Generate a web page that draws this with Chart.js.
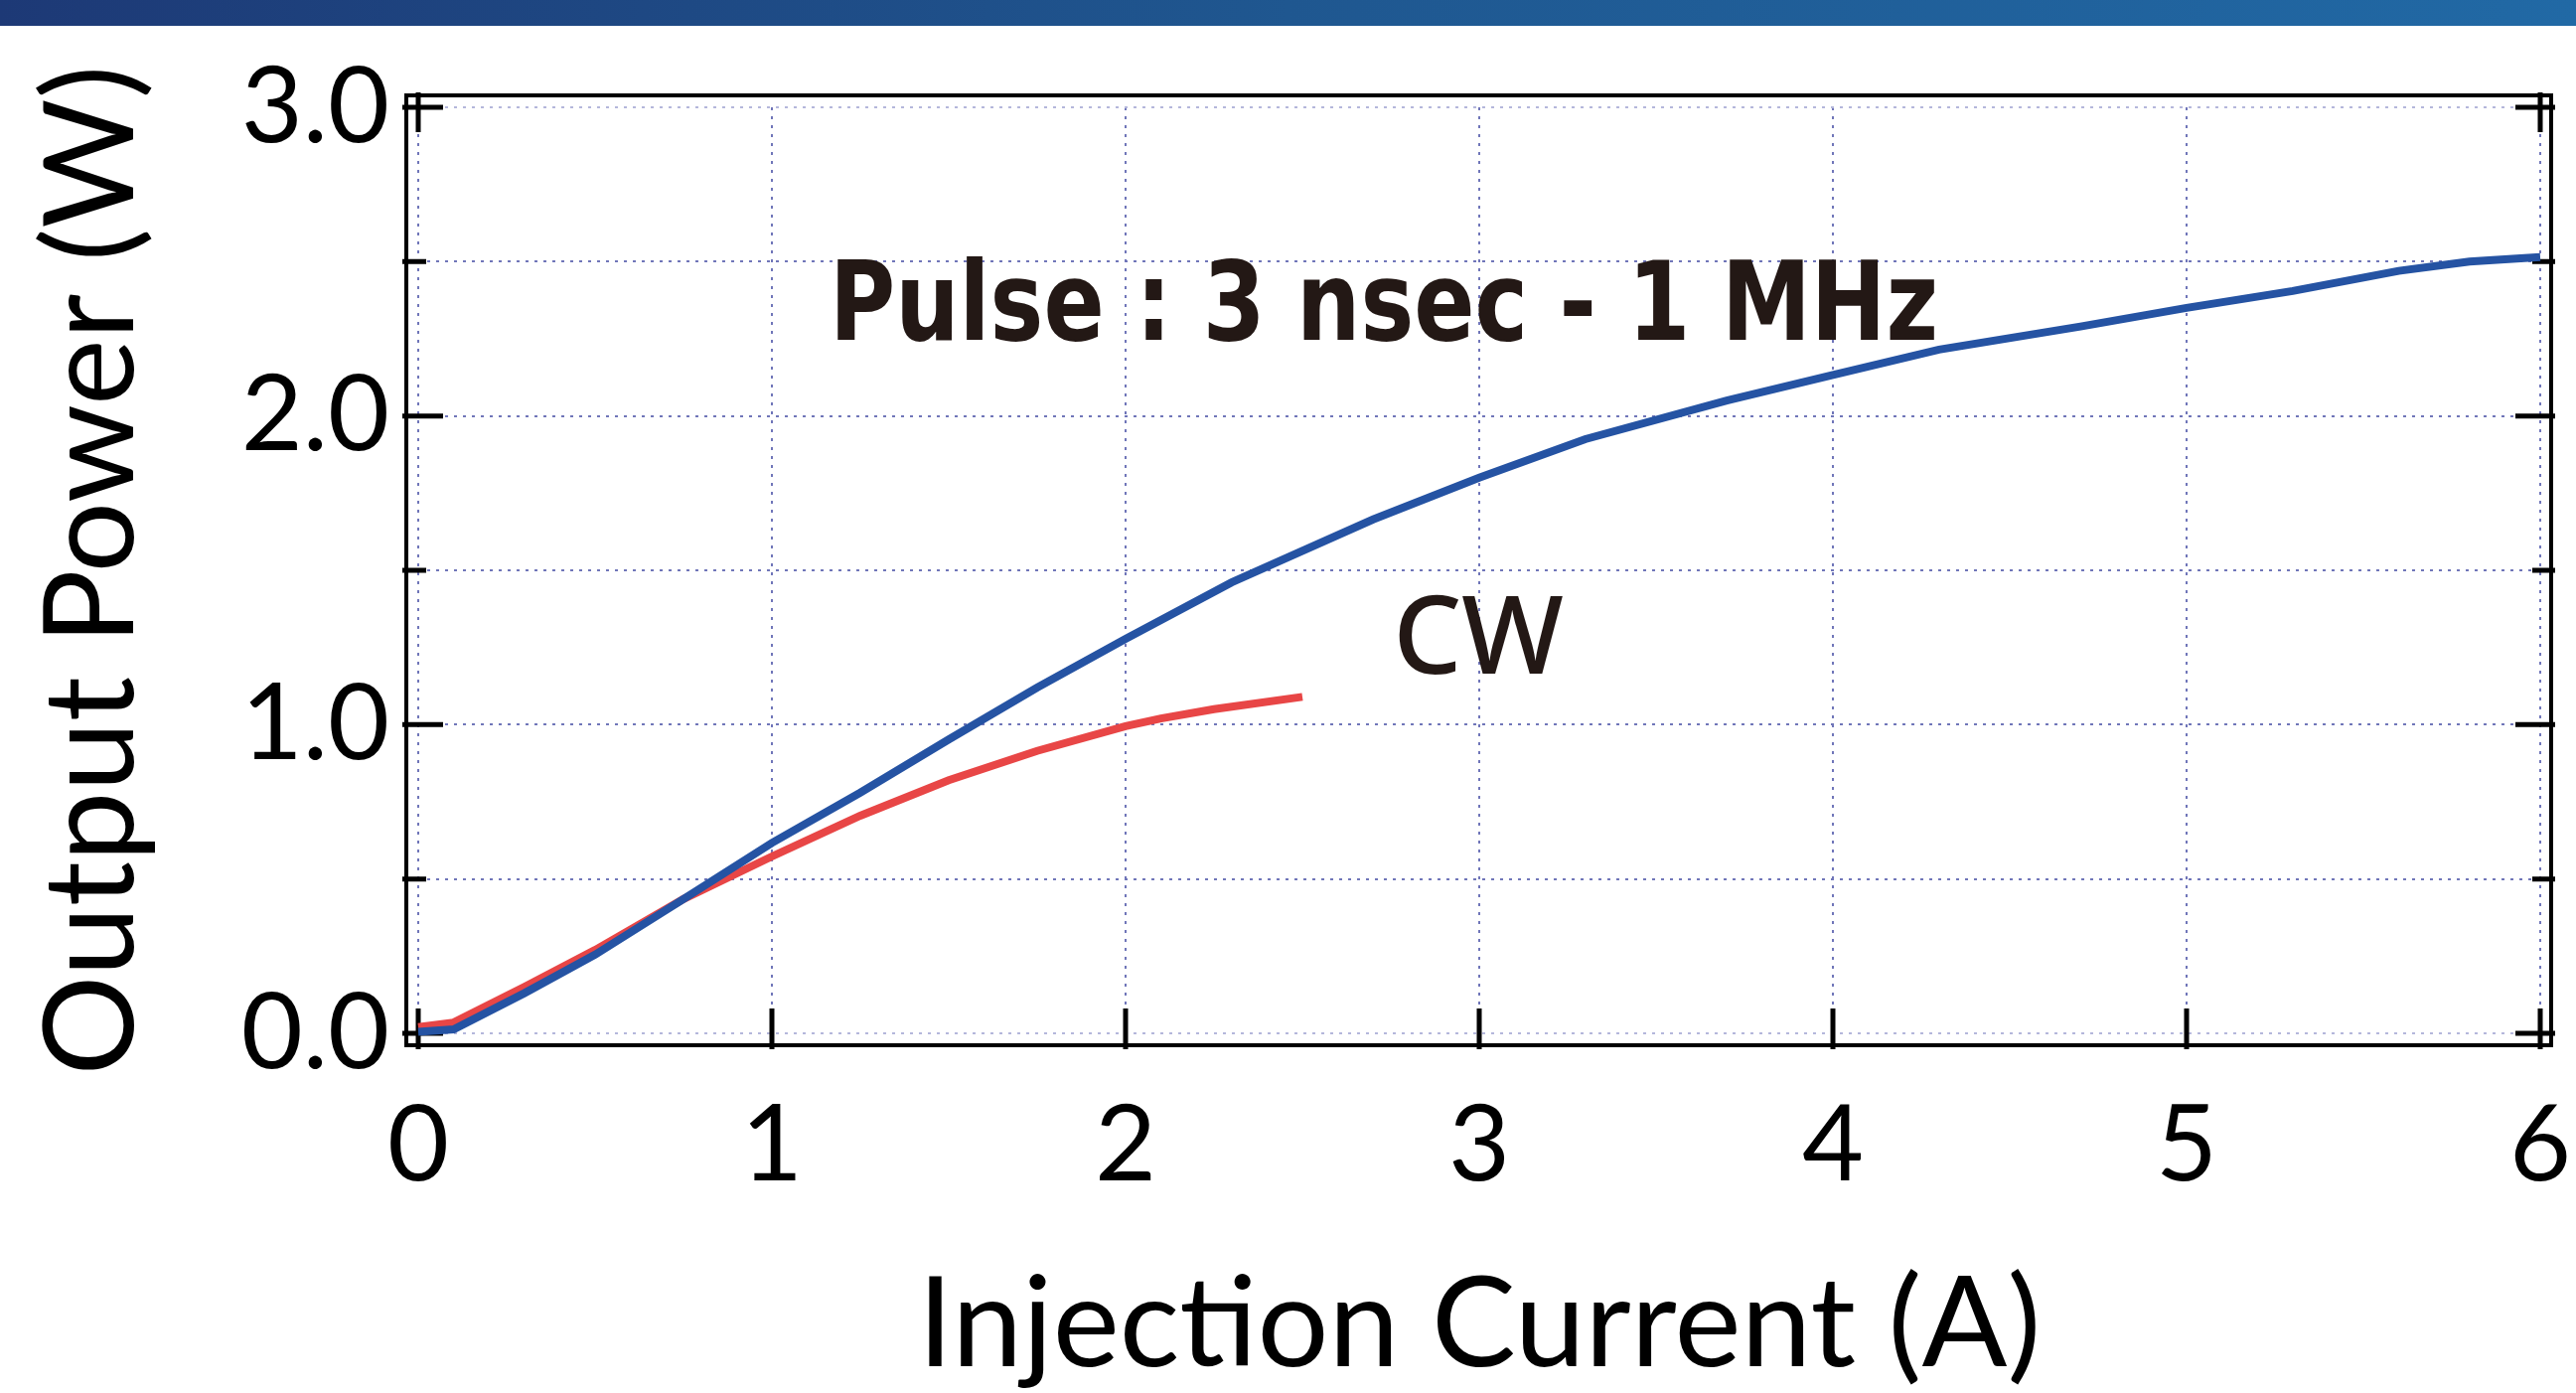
<!DOCTYPE html>
<html>
<head>
<meta charset="utf-8">
<title>Output Power vs Injection Current</title>
<script src="https://cdn.jsdelivr.net/npm/chart.js@4.4.1/dist/chart.umd.min.js"></script>
<style>
  html, body { margin: 0; padding: 0; background: #fff; }
  #wrap { position: relative; width: 2593px; height: 1402px; }
  #topbar {
    position: absolute; left: 0; top: 0; width: 2593px; height: 26px;
    background: linear-gradient(90deg, #1d3976 0%, #1f5790 50%, #2169a5 100%);
  }
  canvas { position: absolute; left: 0; top: 0; }
</style>
</head>
<body>
<div id="wrap">
  <canvas id="chart" width="2593" height="1402"></canvas>
  <div id="topbar"></div>
</div>
<script>
'use strict';

// pulse operation, 3 nsec - 1 MHz
const pulseCurrent = [0, 0.1, 0.3, 0.5, 0.75, 1.0, 1.25, 1.5, 1.75, 2.0, 2.3, 2.7, 3.0, 3.3, 3.7, 4.0, 4.3, 4.7, 5.0, 5.3, 5.6, 5.8, 6.0];
const pulsePower = [0.005, 0.013, 0.13, 0.255, 0.435, 0.617, 0.78, 0.952, 1.12, 1.278, 1.461, 1.665, 1.8, 1.925, 2.05, 2.133, 2.215, 2.29, 2.35, 2.405, 2.47, 2.5, 2.515];

// continuous wave
const cwCurrent = [0, 0.1, 0.3, 0.5, 0.75, 1.0, 1.25, 1.5, 1.75, 2.0, 2.1, 2.25, 2.5];
const cwPower = [0.02, 0.035, 0.15, 0.27, 0.435, 0.573, 0.705, 0.82, 0.915, 0.995, 1.02, 1.05, 1.09];

const xTitle = 'Injection Current (A)';
const yTitle = 'Output Power (W)';
const pulseLabel = 'Pulse : 3 nsec - 1 MHz';
const cwLabel = 'CW';

function toPoints(xs, ys) {
  let pts = [];
  for (let i = 0; i < xs.length; i++) {
    pts.push({ x: xs[i], y: ys[i] });
  }
  return pts;
}

// box around the plot with inward tick marks
const frameTicks = {
  id: 'frameTicks',
  beforeDatasetsDraw(chart) {
    const { ctx, chartArea: a, scales: { x, y } } = chart;
    ctx.save();
    ctx.strokeStyle = '#000';
    ctx.lineWidth = 4;
    ctx.strokeRect(a.left - 12, a.top - 12, a.right - a.left + 23, a.bottom - a.top + 24);

    ctx.lineWidth = 5;
    ctx.beginPath();
    for (let i = 0; i < y.ticks.length; i++) {
      let v = y.ticks[i].value;
      let py = y.getPixelForValue(v);
      let major = Math.abs(v - Math.round(v)) < 1e-6;
      ctx.moveTo(a.left - 16, py);
      ctx.lineTo(a.left + (major ? 25 : 8), py);
      ctx.moveTo(a.right + 15, py);
      ctx.lineTo(a.right - (major ? 25 : 8), py);
    }
    for (let i = 0; i < x.ticks.length; i++) {
      let v = x.ticks[i].value;
      let px = x.getPixelForValue(v);
      ctx.moveTo(px, a.bottom + 16);
      ctx.lineTo(px, a.bottom - 25);
      if (v === x.min || v === x.max) {
        ctx.moveTo(px, a.top - 15);
        ctx.lineTo(px, a.top + 25);
      }
    }
    ctx.stroke();
    ctx.restore();
  },
  afterDatasetsDraw(chart) {
    const { ctx, scales: { x, y } } = chart;
    ctx.save();
    ctx.fillStyle = '#231815';
    ctx.textBaseline = 'alphabetic';
    ctx.textAlign = 'left';

    // pulse label, squeezed to the width it has in the figure
    ctx.font = 'bold 110px "Liberation Sans Narrow", "DejaVu Sans Condensed", sans-serif';
    let left = x.getPixelForValue(1.163);
    let right = x.getPixelForValue(4.298);
    let w = ctx.measureText(pulseLabel).width;
    ctx.save();
    ctx.translate(left, y.getPixelForValue(2.247));
    ctx.scale((right - left) / w, 1);
    ctx.fillText(pulseLabel, 0, 0);
    ctx.restore();

    ctx.font = '500 109px "Noto Sans", sans-serif';
    ctx.fillText(cwLabel, x.getPixelForValue(2.756), y.getPixelForValue(1.165));
    ctx.restore();
  }
};

function gridColor(ctx) {
  let v = ctx.tick ? ctx.tick.value : null;
  if (v === 0 || v === 3) {
    return '#b4b7db';
  }
  return '#7076b9';
}

const chartEl = document.getElementById('chart');
const powerChart = new Chart(chartEl.getContext('2d'), {
  type: 'line',
  data: {
    datasets: [{
      label: 'Pulse',
      data: toPoints(pulseCurrent, pulsePower),
      borderColor: '#2553a3',
      borderWidth: 8,
      pointRadius: 0,
      tension: 0,
      clip: false,
    }, {
      label: 'CW',
      data: toPoints(cwCurrent, cwPower),
      borderColor: '#e84646',
      borderWidth: 8,
      pointRadius: 0,
      tension: 0,
      clip: false,
    }],
  },
  options: {
    responsive: false,
    animation: false,
    devicePixelRatio: 1,
    layout: { padding: { left: 0, top: 108, right: 36, bottom: 0 } },
    plugins: {
      legend: { display: false },
      tooltip: { enabled: false },
    },
    scales: {
      x: {
        type: 'linear',
        min: 0,
        max: 6,
        afterFit(scale) {
          scale.height = 362;
          scale.paddingLeft = 0;
          scale.paddingRight = 0;
        },
        ticks: {
          stepSize: 1,
          color: '#000',
          padding: 49,
          font: { family: 'Lato', size: 107 },
        },
        grid: { color: '#7076b9', lineWidth: 2, drawTicks: false },
        border: { display: false, dash: [3, 6] },
        title: {
          display: true,
          text: xTitle,
          color: '#000',
          font: { family: 'Lato', size: 127, lineHeight: 1 },
          padding: { top: 0, bottom: 4 },
        },
      },
      y: {
        type: 'linear',
        min: 0,
        max: 3,
        afterFit(scale) {
          scale.width = 421;
          scale.paddingTop = 0;
          scale.paddingBottom = 0;
        },
        ticks: {
          stepSize: 0.5,
          color: '#000',
          padding: 29,
          font: { family: 'Lato', size: 107 },
          callback: function (value) {
            return Math.abs(value - Math.round(value)) < 1e-6 ? value.toFixed(1) : '';
          },
        },
        grid: { color: gridColor, lineWidth: 2, drawTicks: false },
        border: { display: false, dash: [3, 6] },
        title: {
          display: true,
          text: yTitle,
          color: '#000',
          font: { family: 'Lato', size: 126, lineHeight: 1 },
          padding: { top: 30, bottom: 0 },
        },
      },
    },
  },
  plugins: [frameTicks],
});
</script>
</body>
</html>
